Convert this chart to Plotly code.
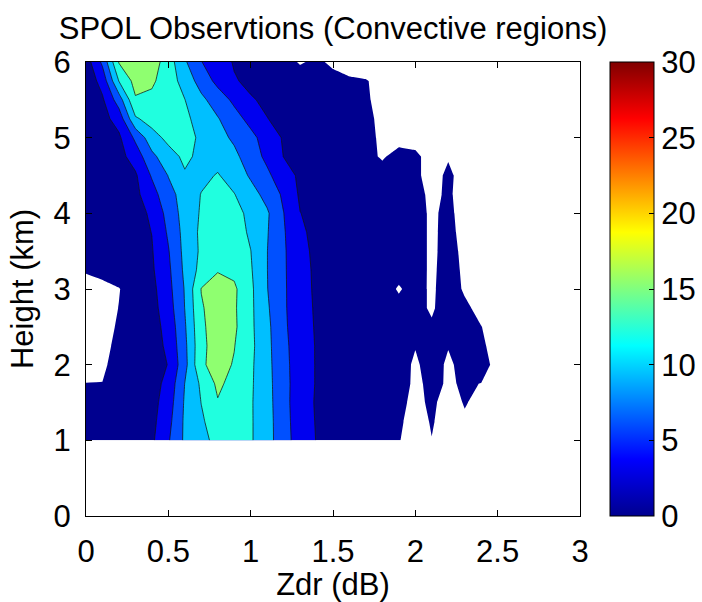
import plotly.graph_objects as go

# Grid of the gridded frequency field: Zdr columns (dB) and height rows (km)
zdr = [0.0, 0.1, 0.2, 0.3, 0.4, 0.5, 0.6, 0.7, 0.8, 0.9, 1.0, 1.1, 1.2,
       1.3, 1.4, 1.5, 1.6, 1.7, 1.8, 1.9, 2.0, 2.1, 2.2, 2.3, 2.4, 2.5]
heights = [1.0, 1.25, 1.5, 1.75, 2.0, 2.25, 2.5, 2.75, 3.0, 3.25, 3.5,
           3.75, 4.0, 4.25, 4.5, 4.75, 5.0, 5.25, 5.5, 5.75, 6.0]

# Frequency (%) per height row; negative entries mark cells with no data
h600 = [1.5, 6.6, 15.2, 17.0, 16.5, 13.5, 9.4, 6.1, 4.2, 2.8, 2.2, 1.8, 1.3, -0.3, 0.6, -0.6, -2, -2, -2, -2, -2, -2, -2, -2, -2, -2]
h575 = [1.0, 4.1, 12.1, 16.0, 15.5, 13.4, 10.9, 7.7, 5.2, 3.2, 2.5, 2.2, 2.0, 1.7, 1.4, 1.0, 0.6, 0.2, -1.0, -2, -2, -2, -2, -2, -2, -2]
h550 = [0.8, 2.6, 7.5, 14.7, 14.3, 13.8, 12.05, 9.7, 7.5, 5.4, 3.2, 2.6, 2.2, 1.9, 1.6, 1.2, 0.9, 0.4, -1.0, -2, -2, -2, -2, -2, -2, -2]
h525 = [0.6, 2.0, 4.2, 11.6, 13.2, 13.5, 12.6, 10.9, 9.2, 7.1, 5.1, 3.05, 2.4, 2.0, 1.7, 1.4, 1.0, 0.5, -0.5, -2, -2, -2, -2, -2, -2, -2]
h500 = [0.5, 1.4, 2.5, 6.6, 10.8, 12.8, 12.9, 11.55, 10.0, 8.5, 6.8, 4.75, 2.7, 2.2, 1.8, 1.5, 1.2, 0.8, -0.5, -1.0, -1.5, -2, -2, -2, -2, -2]
h475 = [0.4, 1.1, 2.0, 4.3, 8.25, 10.8, 12.6, 11.3, 11.0, 9.7, 7.5, 5.3, 2.95, 2.4, 2.0, 1.7, 1.3, 0.8, -0.3, 1.0, 0.8, -1.5, -0.4, -2, -2, -2]
h450 = [0.3, 0.9, 1.7, 2.6, 6.3, 9.1, 11.7, 11.3, 12.2, 10.8, 8.6, 6.6, 4.25, 2.5, 2.2, 1.9, 1.6, 1.3, 1.1, 1.3, 1.08, -2, 1.0, -2, -2, -2]
h425 = [0.3, 0.8, 1.5, 2.3, 4.8, 8.0, 10.2, 12.1, 13.2, 12.1, 10.2, 8.0, 5.5, 2.6, 2.1, 1.8, 1.6, 1.4, 1.3, 1.4, 2.25, -1.5, 1.0, -2.7, -2, -2]
h400 = [0.3, 0.8, 1.4, 2.1, 3.4, 7.1, 10.2, 12.3, 13.6, 13.0, 11.25, 9.4, 6.05, 3.05, 2.3, 1.9, 1.7, 1.5, 1.4, 1.5, 2.33, -1.0, 1.5, -2.55, -2, -2]
h375 = [0.4, 0.9, 1.4, 2.0, 3.05, 6.4, 10.0, 12.6, 13.8, 13.5, 11.5, 9.2, 6.3, 3.4, 2.4, 2.0, 1.8, 1.7, 1.6, 1.6, 2.1, -0.9, 1.53, -1.73, -2, -2]
h350 = [0.5, 1.0, 1.5, 2.0, 2.8, 5.8, 9.85, 12.5, 14.2, 13.8, 12.05, 9.05, 6.4, 3.8, 2.4, 2.0, 1.8, 1.7, 1.6, 1.6, 2.1, -0.9, 1.67, -1.1, -2, -2]
h325 = [0.3, 0.6, 1.2, 1.9, 2.6, 5.4, 9.6, 13.0, 14.8, 14.3, 12.3, 9.05, 6.4, 4.0, 2.5, 2.0, 1.8, 1.7, 1.6, 1.4, 1.87, -0.8, 1.87, -0.8, -2, -2]
h300 = [-1.2, -0.55, -0.1, 1.2, 2.2, 5.05, 9.2, 15.1, 16.3, 15.5, 12.6, 9.1, 6.4, 4.2, 2.5, 2.0, 1.8, 1.6, 1.8, -0.4, 1.63, -0.7, 2.1, -0.52, -2, -2]
h275 = [-1.2, -1.0, 0.05, 1.1, 2.0, 4.6, 9.05, 14.7, 16.5, 15.4, 12.6, 9.4, 6.4, 4.3, 2.6, 2.0, 1.8, 1.6, 1.5, 1.2, 1.17, -0.5, 2.0, 0.78, -1.2, -2]
h250 = [-1.2, -1.0, 0.33, 1.0, 1.8, 4.0, 8.65, 14.4, 16.6, 15.5, 12.6, 9.7, 6.5, 4.4, 2.7, 2.1, 1.8, 1.6, 1.5, 1.5, 1.3, 0.5, 1.5, 1.0, 0.1, -2]
h225 = [-1.2, -1.0, 0.89, 1.0, 1.7, 3.6, 8.3, 14.2, 16.5, 15.1, 12.7, 9.8, 6.7, 4.5, 2.8, 2.1, 1.8, 1.6, 1.5, 1.5, 0.15, 1.2, 0.15, 1.0, 0.86, -2]
h200 = [-1.2, -0.5, 1.17, 1.2, 1.7, 3.1, 8.0, 14.6, 16.0, 14.8, 12.5, 9.9, 6.8, 4.6, 2.8, 2.1, 1.8, 1.6, 1.5, 1.4, -0.5, 1.35, -0.5, 0.97, 1.8, -1.5]
h175 = [0.05, 0.05, 1.0, 1.3, 1.8, 3.9, 9.05, 12.5, 15.6, 14.0, 12.4, 10.0, 6.9, 4.6, 2.8, 2.1, 1.8, 1.6, 1.5, 1.4, -0.6, 0.7, -0.3, 0.3, -0.05, -2]
h150 = [0.7, 1.0, 1.3, 1.6, 2.0, 4.5, 9.35, 12.05, 14.8, 13.8, 12.3, 10.1, 6.9, 4.5, 2.7, 2.0, 1.7, 1.5, 1.4, 1.0, -1.0, 0.7, -1.5, 0.25, -1.0, -2]
h125 = [0.9, 1.2, 1.5, 1.8, 2.2, 5.1, 9.5, 11.6, 13.5, 13.2, 12.3, 10.2, 7.0, 4.6, 2.8, 2.1, 1.7, 1.4, 1.2, 0.6, -1.5, 0.3, -1.5, -0.5, -2, -2]
h100 = [1.0, 1.3, 1.6, 2.0, 2.5, 5.7, 9.5, 11.2, 12.8, 12.8, 12.3, 10.2, 7.1, 4.7, 2.9, 2.2, 1.7, 1.3, 1.0, 0.2, -1.8, -0.08, -2, -2, -2, -2]

freq = [h100, h125, h150, h175, h200, h225, h250, h275, h300, h325, h350,
        h375, h400, h425, h450, h475, h500, h525, h550, h575, h600]

# Contour levels (every 3 %) and the colour-axis range of the bar
level_start, level_end, level_step = 0, 15, 3
cmin, cmax = 0, 30
x_ticks = [0, 0.5, 1, 1.5, 2, 2.5, 3]
x_ticklabels = ["0", "0.5", "1", "1.5", "2", "2.5", "3"]
y_ticks = [0, 1, 2, 3, 4, 5, 6]
cbar_ticks = [0, 5, 10, 15, 20, 25, 30]

# Jet colours sampled at each band's lower level; below 0 stays white
band_colors = ["rgb(255,255,255)", "rgb(0,0,143)", "rgb(0,0,239)",
               "rgb(0,80,255)", "rgb(0,191,255)", "rgb(32,255,223)",
               "rgb(143,255,112)"]
fill_scale = []
n_bands = len(band_colors)
for i, col in enumerate(band_colors):
    lo = 0.0 if i == 0 else (2 * i - 1) / (2 * (n_bands - 1))
    hi = 1.0 if i == n_bands - 1 else (2 * i + 1) / (2 * (n_bands - 1))
    fill_scale.append([lo, col])
    fill_scale.append([hi, col])

jet = [[0.0, "rgb(0,0,143)"], [0.125, "rgb(0,0,255)"],
       [0.375, "rgb(0,255,255)"], [0.625, "rgb(255,255,0)"],
       [0.875, "rgb(255,0,0)"], [1.0, "rgb(128,0,0)"]]

FONT = "Liberation Sans, Arial, Helvetica, sans-serif"
FS = 31

# Plot area in pixels; the colour bar sits just right of it
PLOT_L, PLOT_W = 86, 494
CBAR_X = 1.0607
CBAR_THICK = 44

fig = go.Figure()

# Filled bands
fig.add_trace(go.Contour(
    x=zdr, y=heights, z=freq,
    contours=dict(coloring="fill", start=level_start, end=level_end,
                  size=level_step, showlines=False),
    colorscale=fill_scale, showscale=False,
    line=dict(width=0, smoothing=0), hoverinfo="skip",
))

# Dark iso-lines between the coloured bands
fig.add_trace(go.Contour(
    x=zdr, y=heights, z=freq,
    contours=dict(coloring="none", start=level_start + level_step,
                  end=level_end, size=level_step),
    line=dict(color="rgb(20,20,20)", width=0.75, smoothing=0),
    showscale=False, hoverinfo="skip",
))

# Continuous jet colour bar
fig.add_trace(go.Scatter(
    x=[-1], y=[-1], mode="markers", showlegend=False, hoverinfo="skip",
    marker=dict(color=[cmin], colorscale=jet, cmin=cmin, cmax=cmax,
                showscale=True,
                colorbar=dict(
                    x=CBAR_X, xanchor="left", xpad=0, ypad=0,
                    y=0.5, yanchor="middle", len=1, lenmode="fraction",
                    thickness=CBAR_THICK, thicknessmode="pixels",
                    outlinecolor="black", outlinewidth=1,
                    tickvals=cbar_ticks, ticks="inside", ticklen=5,
                    tickcolor="black",
                    tickfont=dict(family=FONT, size=FS, color="black"),
                )),
))

# Matching tick marks along the left edge of the colour bar
tick_w = 5 / PLOT_W
cbar_shapes = [
    dict(type="line", xref="paper", yref="paper",
         x0=CBAR_X, x1=CBAR_X + tick_w,
         y0=(v - cmin) / (cmax - cmin), y1=(v - cmin) / (cmax - cmin),
         line=dict(color="black", width=1))
    for v in cbar_ticks[1:-1]
]

axis_common = dict(
    ticks="inside", ticklen=6, tickcolor="black", tickwidth=1,
    showline=True, linecolor="black", linewidth=1, mirror="ticks",
    showgrid=False, zeroline=False,
    tickfont=dict(family=FONT, size=FS, color="black"),
    ticklabelstandoff=8,
)

fig.update_layout(
    width=702, height=602,
    margin=dict(l=PLOT_L, r=702 - PLOT_L - PLOT_W, t=62, b=86,
                autoexpand=False),
    paper_bgcolor="white", plot_bgcolor="white",
    font=dict(family=FONT, size=FS, color="black"),
    title=dict(text="SPOL Observtions (Convective regions)",
               x=0.5, xref="paper", xanchor="center",
               y=1 - 28 / 602, yref="container", yanchor="middle",
               font=dict(family=FONT, size=FS, color="black")),
    xaxis=dict(range=[0, 3], tickvals=x_ticks, ticktext=x_ticklabels,
               title=dict(text="Zdr (dB)", standoff=4,
                          font=dict(family=FONT, size=FS)),
               **axis_common),
    yaxis=dict(range=[0, 6], tickvals=y_ticks,
               title=dict(text="Height (km)", standoff=10,
                          font=dict(family=FONT, size=FS)),
               **axis_common),
    shapes=cbar_shapes,
    showlegend=False,
)

fig.write_html("out.html")
